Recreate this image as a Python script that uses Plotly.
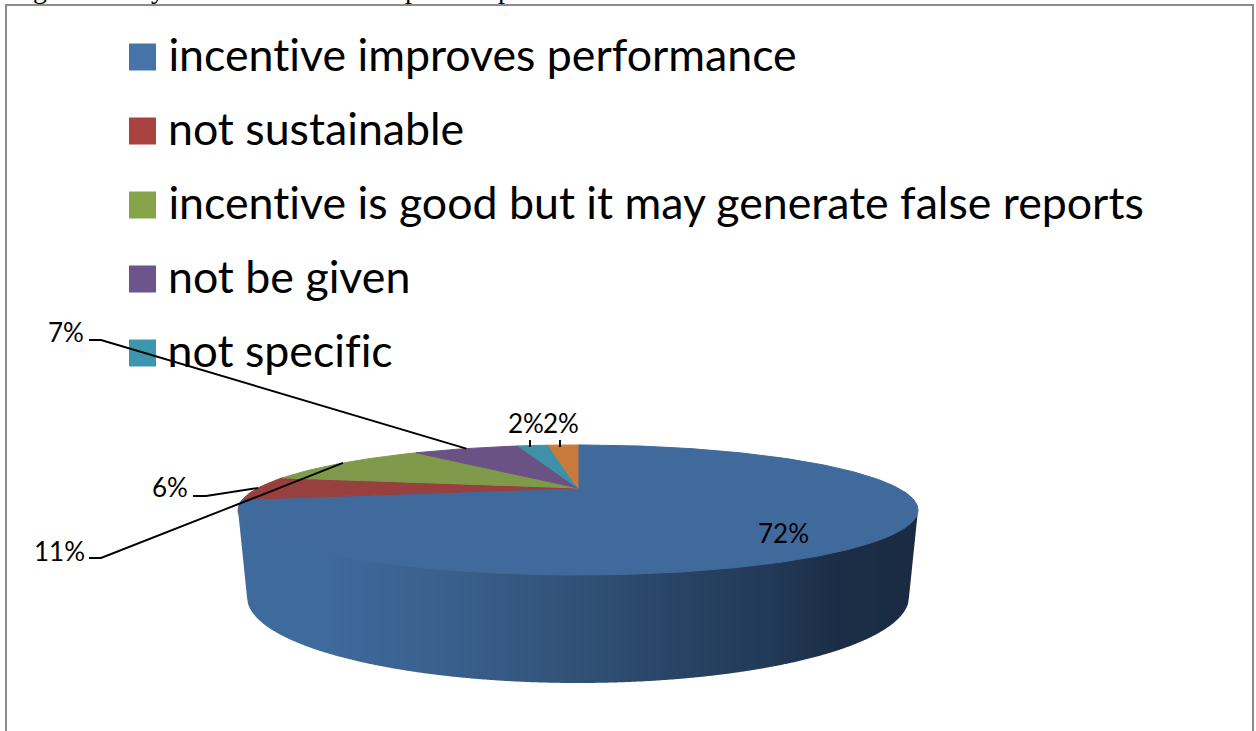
import numpy as np
import plotly.graph_objects as go

LABELS = ['incentive improves performance', 'not sustainable',
          'incentive is good but it may generate false reports', 'not be given', 'not specific']
SHARES = [72, 6, 11, 7, 2, 2]
SHARE_TEXT = ['72%', '6%', '11%', '7%', '2%', '2%']
TOP_COLORS = ['#406A9B', '#983F3F', '#7F9A4A', '#6A5285', '#3F91A8', '#C97A3A']
LEGEND_COLORS = ['#4674A8', '#A8423F', '#86A44A', '#6E548D', '#3D96AE']
FONT = 'Lato'

# only the feet of the caption above the chart are on the page
CAPTION_GLYPHS = ['g', 'y', 'p', 'p']
CAPTION_X = [40, 158, 412, 505]

# pie drawn in page pixels, top face is a circle seen in perspective
CX, APEX_Y = 578, 488
RX, RY, K = 320, 57.6, 0.338
WALL_STOPS = [(0.0, '#3F6B9E'), (0.13, '#3F6A9C'), (0.32, '#3A5F8C'), (0.5, '#315277'),
              (0.62, '#2A4668'), (0.78, '#233A58'), (0.88, '#1C2E47'), (1.0, '#1A2B42')]


def project(pct):
    a = np.radians(np.asarray(pct) * 3.6)
    u, v = np.sin(a), np.cos(a)
    return CX + RX * u / (1 + K * v), APEX_Y - RY * v / (1 + K * v)


def hex_rgb(c):
    return [int(c[i:i + 2], 16) for i in (1, 3, 5)]


def wall_color(f):
    pos = [s[0] for s in WALL_STOPS]
    rgb = [np.interp(f, pos, [hex_rgb(s[1])[i] for s in WALL_STOPS]) for i in range(3)]
    return 'rgb(%d,%d,%d)' % tuple(rgb)


def wall_top(x):
    # a bit inside the rim, the top face is drawn over it
    return 510 + 0.93 * 65 * np.sqrt(np.clip(1 - ((x - CX) / 340) ** 2, 0, 1))


def wall_bottom(x):
    # sides lean in a little until they meet the lower ellipse
    inner = np.abs(x - CX) <= 331
    lower = 597 + 86 * np.sqrt(np.clip(1 - ((x - CX) / 331) ** 2, 0, 1))
    side = 510 + (340 - np.abs(x - CX)) * 87 / 9
    return np.where(inner, lower, side)


fig = go.Figure()


def poly(xs, ys, color):
    fig.add_trace(go.Scatter(x=xs, y=ys, mode='lines', fill='toself', fillcolor=color,
                             line=dict(color=color, width=1), showlegend=False, hoverinfo='skip'))


# front wall, upright strips on whole pixels so no seams show
STEP = 4
for left in range(238, 918, STEP):
    xs = np.linspace(left, min(left + STEP, 918), 5)
    fig.add_trace(go.Scatter(x=list(xs) + list(xs[::-1]), y=list(wall_top(xs)) + list(wall_bottom(xs)[::-1]),
                             mode='none', fill='toself', fillcolor=wall_color((left - 238) / 679),
                             showlegend=False, hoverinfo='skip'))

# top face
cum = np.concatenate([[0], np.cumsum(SHARES)])
for i, color in enumerate(TOP_COLORS):
    xs, ys = project(np.linspace(cum[i], cum[i + 1], max(4, SHARES[i] * 4)))
    poly([CX] + list(xs) + [CX], [APEX_Y] + list(ys) + [APEX_Y], color)

# legend
LEGEND_Y = [57, 131, 205, 279, 353]
fig.add_trace(go.Scatter(x=[142.5] * 5, y=LEGEND_Y, mode='markers', showlegend=False, hoverinfo='skip',
                         marker=dict(symbol='square', size=27, color=LEGEND_COLORS)))
for y, label in zip(LEGEND_Y, LABELS):
    fig.add_annotation(x=166, y=y - 3, text=label, showarrow=False, xanchor='left', yanchor='middle',
                       font=dict(family=FONT, size=44.7, color='black'))

# leader lines, they end at the middle of each slice rim
mid = (cum[:-1] + cum[1:]) / 2
mx, my = project(mid)
LABEL_X = [783, 170, 59, 66, 526, 561]
LABEL_Y = [533, 487, 551, 332, 423, 423]
ELBOWS = [None, (193, 206, 496), (89, 101, 558), (89, 101, 340), None, None]
for i, e in enumerate(ELBOWS):
    if e:
        fig.add_trace(go.Scatter(x=[e[0], e[1], mx[i]], y=[e[2], e[2], my[i]], mode='lines', showlegend=False,
                                 hoverinfo='skip', line=dict(color='black', width=1.9)))
    elif i > 0:
        fig.add_trace(go.Scatter(x=[mx[i] - 3, mx[i] - 3], y=[440, 447], mode='lines', showlegend=False,
                                 hoverinfo='skip', line=dict(color='black', width=1.9)))
    fig.add_annotation(x=LABEL_X[i], y=LABEL_Y[i], text=SHARE_TEXT[i], showarrow=False,
                       font=dict(family=FONT, size=26, color='black'))

for x, glyph in zip(CAPTION_X, CAPTION_GLYPHS):
    fig.add_annotation(x=x, y=0, text=glyph, showarrow=False, yanchor='middle', yshift=12,
                       font=dict(family='Liberation Serif', size=28, color='black'))

# chart frame, runs off the bottom of the page
fig.add_shape(type='rect', x0=6, x1=1253, y0=5, y1=760, line=dict(color='#8C8C8C', width=2), layer='below')

fig.update_xaxes(range=[0, 1256], visible=False, fixedrange=True)
fig.update_yaxes(range=[731, 0], visible=False, fixedrange=True)
fig.update_layout(width=1256, height=731, margin=dict(l=0, r=0, t=0, b=0),
                  paper_bgcolor='white', plot_bgcolor='white')

fig.write_html('out.html', config=dict(displayModeBar=False), post_script=(
    "document.body.style.margin='0';document.body.style.overflow='hidden';"
    "var s=document.createElement('style');s.textContent='text{font-variant-ligatures:none !important}';"
    "document.head.appendChild(s);"))
